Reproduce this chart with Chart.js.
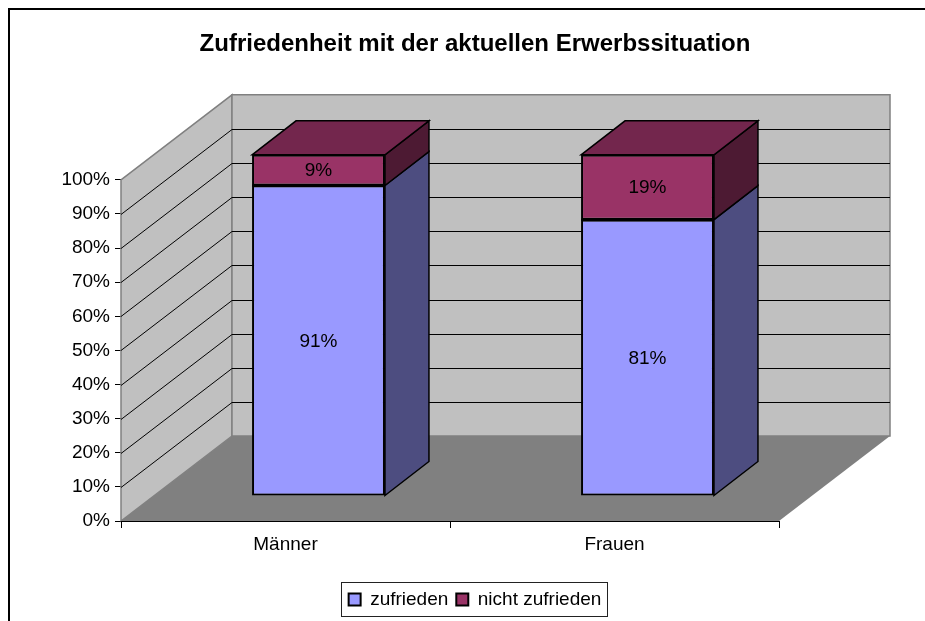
<!DOCTYPE html>
<html>
<head>
<meta charset="utf-8">
<script src="https://cdn.jsdelivr.net/npm/chart.js@4"></script>
<style>
  html, body { margin: 0; padding: 0; background: #fff; overflow: hidden; }
  #wrap { position: absolute; left: 0; top: 0; width: 925px; height: 621px; }
</style>
</head>
<body>
<div id="wrap"><canvas id="chart"></canvas></div>
<script>
const categories = ['Männer', 'Frauen'];
const zufrieden = [91, 81];
const nichtZufrieden = [9, 19];
const yTicks = [0, 10, 20, 30, 40, 50, 60, 70, 80, 90, 100];

// fake 3d depth, front of the plot to the back wall
const wallDx = 111, wallDy = -85;
// where the bars stand on the floor and how deep they are
const barDx = 33, barDy = -25;
const depthDx = 44, depthDy = -34;

const fontName = '"Liberation Sans", Arial, sans-serif';

function poly(ctx, pts, fill, stroke, lw) {
  ctx.beginPath();
  pts.forEach((p, i) => i ? ctx.lineTo(p[0], p[1]) : ctx.moveTo(p[0], p[1]));
  ctx.closePath();
  if (fill) { ctx.fillStyle = fill; ctx.fill(); }
  if (stroke) { ctx.strokeStyle = stroke; ctx.lineWidth = lw || 1; ctx.stroke(); }
}

const frame = {
  id: 'frame',
  beforeDraw(chart) {
    const ctx = chart.ctx;
    ctx.save();
    ctx.strokeStyle = '#000';
    ctx.lineWidth = 2;
    ctx.beginPath();
    ctx.moveTo(9, 625);
    ctx.lineTo(9, 9);
    ctx.lineTo(930, 9);
    ctx.stroke();
    ctx.restore();
  }
};

const walls = {
  id: 'walls',
  beforeDatasetsDraw(chart) {
    const ctx = chart.ctx, a = chart.chartArea, y = chart.scales.y;
    const l = a.left, r = a.right, t = a.top, b = a.bottom;
    ctx.save();
    // left wall
    poly(ctx, [[l, t], [l + wallDx, t + wallDy], [l + wallDx, b + wallDy], [l, b]], '#c0c0c0', '#808080', 1.5);
    // back wall
    poly(ctx, [[l + wallDx, t + wallDy], [r + wallDx, t + wallDy], [r + wallDx, b + wallDy], [l + wallDx, b + wallDy]], '#c0c0c0', '#808080', 1.5);
    // floor
    poly(ctx, [[l, b], [l + wallDx, b + wallDy], [r + wallDx, b + wallDy], [r, b]], '#808080', null);
    // grid on both walls
    ctx.strokeStyle = '#000';
    ctx.lineWidth = 1;
    yTicks.slice(1, -1).forEach(v => {
      const py = Math.round(y.getPixelForValue(v)) + 0.5;
      ctx.beginPath();
      ctx.moveTo(l, py);
      ctx.lineTo(l + wallDx, py + wallDy);
      ctx.lineTo(r + wallDx, py + wallDy);
      ctx.stroke();
    });
    ctx.restore();

    // side and top faces, back to front
    ctx.save();
    ctx.translate(barDx, barDy);
    ctx.lineJoin = 'miter';
    chart.data.datasets.forEach((ds, di) => {
      chart.getDatasetMeta(di).data.forEach(bar => {
        const x1 = bar.x + bar.width / 2, x0 = bar.x - bar.width / 2;
        poly(ctx, [[x1, bar.base], [x1 + depthDx, bar.base + depthDy], [x1 + depthDx, bar.y + depthDy], [x1, bar.y]], ds.sideColor, '#000', 1.5);
        if (di === chart.data.datasets.length - 1) {
          poly(ctx, [[x0, bar.y], [x0 + depthDx, bar.y + depthDy], [x1 + depthDx, bar.y + depthDy], [x1, bar.y]], ds.topColor, '#000', 1.5);
        }
      });
    });
    // bars themselves get drawn by chart.js inside this shift
  },
  afterDatasetsDraw(chart) {
    const ctx = chart.ctx;
    // seam between the two stacked parts
    ctx.strokeStyle = '#000';
    ctx.lineWidth = 2;
    chart.getDatasetMeta(0).data.forEach(bar => {
      ctx.beginPath();
      ctx.moveTo(bar.x - bar.width / 2, bar.y);
      ctx.lineTo(bar.x + bar.width / 2, bar.y);
      ctx.stroke();
    });
    // value labels sit on the shifted front faces
    ctx.fillStyle = '#000';
    ctx.font = '19px ' + fontName;
    ctx.textAlign = 'center';
    ctx.textBaseline = 'middle';
    chart.data.datasets.forEach((ds, di) => {
      chart.getDatasetMeta(di).data.forEach((bar, i) => {
        ctx.fillText(ds.data[i] + '%', bar.x, (bar.y + bar.base) / 2 + 1);
      });
    });
    ctx.restore();

    // axis line goes back on top
    const a = chart.chartArea;
    ctx.save();
    ctx.strokeStyle = '#000';
    ctx.lineWidth = 1;
    ctx.beginPath();
    ctx.moveTo(a.left - 0.5, a.bottom + 0.5);
    ctx.lineTo(a.right, a.bottom + 0.5);
    ctx.stroke();
    ctx.restore();

    // box round the legend
    const hits = chart.legend.legendHitBoxes;
    const bx0 = Math.round(hits[0].left) - 7.5;
    const bx1 = Math.round(hits[hits.length - 1].left + hits[hits.length - 1].width) + 6.5;
    ctx.save();
    ctx.strokeStyle = '#222';
    ctx.lineWidth = 1;
    ctx.strokeRect(bx0, 582.5, bx1 - bx0, 34);
    ctx.restore();
  }
};

new Chart(document.getElementById('chart'), {
  type: 'bar',
  plugins: [frame, walls],
  data: {
    labels: categories,
    datasets: [
      { label: 'zufrieden', data: zufrieden, backgroundColor: '#9999ff', borderColor: '#000', borderWidth: 2, borderSkipped: false, barPercentage: 0.404, categoryPercentage: 1, sideColor: '#4d4d80', topColor: '#4d4d80' },
      { label: 'nicht zufrieden', data: nichtZufrieden, backgroundColor: '#993366', borderColor: '#000', borderWidth: 2, borderSkipped: false, barPercentage: 0.404, categoryPercentage: 1, sideColor: '#4d1a33', topColor: '#73264d' }
    ]
  },
  options: {
    responsive: true,
    maintainAspectRatio: false,
    animation: false,
    layout: { padding: { left: 25, right: 0, top: 0, bottom: 2 } },
    plugins: {
      title: {
        display: true,
        text: 'Zufriedenheit mit der aktuellen Erwerbssituation',
        color: '#000',
        font: { family: fontName, size: 24, weight: 'bold' },
        padding: { top: 30, bottom: 121 }
      },
      legend: {
        position: 'bottom',
        labels: {
          color: '#000',
          font: { family: fontName, size: 19 },
          boxWidth: 12,
          boxHeight: 12,
          padding: 8
        }
      },
      tooltip: { enabled: false }
    },
    scales: {
      x: {
        stacked: true,
        grid: { display: true, drawOnChartArea: false, color: '#000', tickLength: 7, offset: true },
        border: { color: '#000' },
        ticks: { color: '#000', font: { family: fontName, size: 19 }, padding: 5, maxRotation: 0 },
        afterFit(s) { s.height = 61; }
      },
      y: {
        stacked: true,
        min: 0,
        max: 100,
        afterBuildTicks(s) { s.ticks = yTicks.map(v => ({ value: v })); },
        grid: { drawOnChartArea: false, color: '#000', tickLength: 6 },
        border: { color: '#000' },
        ticks: { color: '#000', font: { family: fontName, size: 19 }, padding: 5, callback: v => v + '%' },
        afterFit(s) { s.width = 96; }
      },
      // empty axis, only keeps the room right of the plot for the depth
      y2: {
        position: 'right',
        grid: { display: false },
        border: { display: false },
        ticks: { display: false },
        afterFit(s) { s.width = 146; }
      }
    }
  }
});
</script>
</body>
</html>
